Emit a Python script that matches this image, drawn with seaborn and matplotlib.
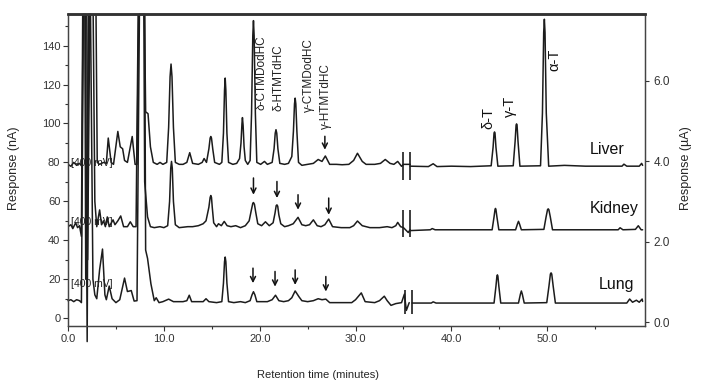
import numpy as np
import pandas as pd
import matplotlib
matplotlib.use("Agg")
import matplotlib.pyplot as plt
import seaborn as sns

# --- data (time in minutes) ---
# left part (before the axis break), response in nA
liver_left = [(0.0, 79), (0.3, 78), (0.6, 80), (0.9, 78.5), (1.2, 79.5), (1.45, 78), (1.6, 170), (1.95, 170),
              (2.05, 30), (2.3, 170), (2.9, 170), (3.05, 80), (3.3, 79), (3.7, 80), (4.0, 79.5), (4.2, 92.5),
              (4.5, 80), (4.75, 79), (5.2, 95.9), (5.45, 88), (5.7, 87), (5.9, 81), (6.2, 80), (6.7, 93.3),
              (7.0, 79), (7.2, 79), (7.4, 170), (7.95, 170), (8.1, 106), (8.35, 105), (8.6, 88), (8.9, 80),
              (9.3, 79), (9.6, 80), (9.9, 79), (10.3, 80), (10.5, 98), (10.65, 124), (10.75, 130.5), (10.85, 124),
              (11.0, 98), (11.2, 80), (11.6, 79), (12.0, 79), (12.4, 80), (12.7, 85), (13.0, 79.5), (13.6, 79),
              (14.0, 80), (14.2, 82), (14.45, 80), (14.7, 87), (14.83, 92.5), (14.9, 93.3), (14.97, 92.5),
              (15.1, 87), (15.3, 80), (15.8, 79), (16.05, 80), (16.22, 95), (16.33, 117), (16.4, 123.3),
              (16.47, 117), (16.58, 95), (16.75, 80), (17.2, 79), (17.6, 79.5), (17.9, 82), (18.05, 90),
              (18.15, 100), (18.2, 103), (18.27, 99), (18.37, 88), (18.5, 81), (18.75, 79), (19.0, 81),
              (19.15, 105), (19.28, 145), (19.35, 152.8), (19.42, 145), (19.55, 105), (19.7, 80), (20.1, 79),
              (20.5, 80.5), (20.8, 79), (21.3, 80), (21.5, 87), (21.62, 95), (21.7, 96.8), (21.78, 95), (21.9, 87),
              (22.1, 79.5), (22.6, 79), (23.0, 79.5), (23.35, 83), (23.52, 96), (23.63, 110), (23.7, 113),
              (23.77, 110), (23.88, 96), (24.05, 80), (24.4, 78.5), (25.0, 79), (25.6, 79.5), (26.1, 81.5),
              (26.5, 80.5), (26.85, 83.3), (27.3, 79), (28.0, 79), (28.6, 78.8), (29.3, 79), (29.8, 81),
              (30.2, 84.7), (30.7, 80.5), (31.1, 79), (32.0, 79), (32.6, 79.5), (33.1, 81.5), (33.6, 79.5),
              (34.0, 79), (34.4, 80.5), (34.8, 78), (35.0, 79), (35.7, 79)]
kidney_left = [(0.0, 47), (0.3, 48), (0.5, 46), (0.8, 49), (1.0, 46.5), (1.2, 47.5), (1.4, 42), (1.55, 170),
               (1.75, 170), (1.85, 20), (2.2, 170), (2.6, 170), (2.8, 60), (3.0, 47), (3.3, 55.6), (3.5, 48),
               (3.7, 50), (3.9, 47), (4.1, 52), (4.3, 47), (4.7, 50.5), (4.9, 48), (5.2, 50), (5.5, 52.5), (5.8, 47),
               (6.2, 47), (6.5, 49.5), (6.8, 47), (7.1, 47), (7.35, 170), (7.9, 170), (8.0, 70), (8.3, 52), (8.6, 47),
               (9.0, 46.5), (9.6, 47), (10.0, 46.5), (10.4, 47.5), (10.6, 60), (10.72, 77), (10.8, 80.5),
               (10.88, 77), (11.0, 60), (11.2, 48), (11.6, 46.5), (12.5, 47), (13.0, 47), (13.6, 47.5), (14.1, 48.5),
               (14.4, 50), (14.7, 57), (14.83, 62), (14.9, 63), (14.97, 62), (15.05, 57), (15.2, 49), (15.5, 47),
               (15.7, 48.5), (16.0, 47.5), (16.3, 49.7), (16.6, 47.5), (17.0, 47), (17.5, 47.5), (18.0, 46.5),
               (18.5, 47.5), (18.9, 50), (19.15, 56), (19.28, 59), (19.35, 59.4), (19.45, 58.5), (19.6, 54),
               (19.8, 48.5), (20.2, 47.5), (20.6, 49.5), (21.0, 47.5), (21.4, 49), (21.6, 54), (21.72, 57.8),
               (21.8, 58.2), (21.88, 57.5), (22.0, 53), (22.2, 48.5), (22.6, 47), (23.0, 47.5), (23.5, 48.5),
               (24.0, 51.8), (24.4, 48), (24.8, 47.5), (25.2, 48), (25.6, 50.5), (26.0, 47.5), (26.4, 47), (26.8, 48),
               (27.2, 50.9), (27.6, 47), (28.5, 46.5), (29.4, 46.5), (29.8, 47.5), (30.2, 49.9), (30.7, 47.5),
               (31.5, 46.5), (32.5, 46.5), (33.3, 47), (33.8, 46.5), (34.2, 47.5), (34.4, 49.2), (34.7, 47),
               (35.0, 46.5), (35.5, 44), (35.7, 45.5)]
lung_left = [(0.0, 9), (0.3, 9.5), (0.6, 8.5), (0.9, 9.5), (1.2, 9), (1.4, 8), (1.6, 156), (1.8, 156), (2.0, -12),
             (2.15, 156), (2.35, 156), (2.6, 20), (2.8, 12), (3.0, 10), (3.3, 25), (3.6, 35.5), (3.85, 12), (4.0, 9.5),
             (4.3, 16.5), (4.6, 10), (5.0, 8), (5.4, 9.5), (5.9, 20.6), (6.2, 13.7), (6.6, 14.2), (6.9, 8.8), (7.2, 9),
             (7.45, 156), (8.0, 156), (8.1, 35), (8.3, 30.7), (8.65, 17.7), (9.0, 9), (9.2, 10.5), (9.5, 8),
             (9.9, 8.5), (10.5, 9.8), (11.0, 8.5), (12.0, 8.5), (12.4, 9), (12.65, 11.8), (12.9, 8.5), (13.5, 8.5),
             (14.1, 8.5), (14.4, 10), (14.7, 8.5), (15.5, 8), (16.05, 8.5), (16.22, 18), (16.33, 29), (16.4, 31.4),
             (16.47, 29), (16.58, 18), (16.75, 8.5), (17.3, 8), (18.0, 8.5), (18.5, 8), (19.0, 9), (19.2, 12),
             (19.35, 13.6), (19.5, 12), (19.7, 8.5), (20.3, 8.5), (20.8, 8.5), (21.3, 9.5), (21.65, 11.8), (22.0, 9),
             (22.5, 8.5), (23.0, 9), (23.35, 10.5), (23.7, 14), (24.1, 11), (24.4, 9), (25.0, 8.5), (25.6, 9),
             (26.1, 10), (26.5, 9.5), (26.9, 9.8), (27.3, 8), (28.5, 8), (29.6, 8), (30.0, 9.5), (30.6, 13),
             (31.0, 8.5), (32.0, 8), (32.5, 9), (33.0, 11.3), (33.3, 9), (33.7, 6.6), (34.2, 7.5), (34.8, 8),
             (35.1, 12.4), (35.3, 4), (35.6, 8)]

# right part (after the break), response in uA
liver_right = [(35.7, 3.88), (37.6, 3.87), (38.1, 3.94), (38.5, 3.87), (40.0, 3.88), (42.0, 3.87), (44.15, 3.89),
               (44.35, 4.35), (44.45, 4.7), (44.5, 4.73), (44.55, 4.7), (44.65, 4.35), (44.85, 3.88), (46.45, 3.89),
               (46.65, 4.5), (46.75, 4.9), (46.8, 4.93), (46.85, 4.9), (46.95, 4.5), (47.15, 3.88), (49.3, 3.89),
               (49.5, 5.2), (49.63, 7.2), (49.7, 7.53), (49.77, 7.2), (49.9, 5.2), (50.15, 3.88), (51.8, 3.9),
               (54.0, 3.88), (57.8, 3.88), (58.0, 3.93), (58.3, 3.88), (59.6, 3.88), (59.85, 3.95), (59.95, 3.9)]
kidney_right = [(35.7, 2.28), (37.8, 2.30), (38.0, 2.33), (38.3, 2.30), (44.25, 2.30), (44.45, 2.62), (44.55, 2.8),
                (44.6, 2.83), (44.65, 2.8), (44.75, 2.62), (44.95, 2.30), (46.7, 2.30), (46.9, 2.45), (47.0, 2.51),
                (47.1, 2.45), (47.3, 2.30), (49.65, 2.31), (49.88, 2.62), (50.03, 2.8), (50.1, 2.82), (50.17, 2.8),
                (50.32, 2.62), (50.55, 2.30), (57.4, 2.30), (57.6, 2.35), (57.9, 2.30), (59.2, 2.31), (59.5, 2.40),
                (59.8, 2.30), (59.95, 2.30)]
lung_right = [(35.9, 0.48), (37.9, 0.48), (38.1, 0.51), (38.4, 0.48), (44.45, 0.48), (44.65, 0.9), (44.75, 1.15),
              (44.8, 1.18), (44.85, 1.15), (44.95, 0.9), (45.15, 0.48), (47.0, 0.48), (47.2, 0.7), (47.3, 0.78),
              (47.4, 0.7), (47.6, 0.48), (49.95, 0.49), (50.18, 0.9), (50.33, 1.2), (50.4, 1.23), (50.47, 1.2),
              (50.62, 0.9), (50.85, 0.48), (58.3, 0.48), (58.6, 0.58), (58.9, 0.50), (59.3, 0.55), (59.6, 0.50),
              (59.9, 0.58), (59.95, 0.52)]

tissues = ["Liver", "Kidney", "Lung"]
tissue_label_time = [56.2, 57.0, 57.2]
tissue_label_nA = [86.6, 56.2, 17.1]
mv_label_nA = [79.7, 49.4, 17.6]

# axis-break bars: (first bar, second bar) times and nA extent
break_first = [35.0, 35.0, 35.2]
break_second = [35.7, 35.7, 35.9]
break_low = [71.0, 41.7, 2.1]
break_high = [85.5, 55.6, 14.5]

# labelled peaks
metab_names = ["δ-CTMDodHC", "δ-HTMTdHC", "γ-CTMDodHC", "γ-HTMTdHC"]
metab_time = [20.2, 22.0, 25.1, 26.9]
metab_bottom_nA = [107.0, 106.5, 106.0, 97.3]
toco_names = ["δ-T", "γ-T", "α-T"]
toco_time = [43.85, 46.1, 50.7]
toco_bottom_uA = [4.8, 5.1, 6.25]

# arrows (time, start nA, end nA)
arrows = [(26.8, 93.4, 86.5),
          (19.35, 72.0, 63.4), (21.8, 70.2, 61.7), (24.0, 63.4, 55.7), (27.2, 61.7, 53.1),
          (19.3, 25.7, 18.0), (21.6, 24.0, 16.2), (23.7, 24.8, 17.1), (26.9, 21.4, 13.7)]

# --- build tables ---
def to_frame(pairs, tissue, col):
    df = pd.DataFrame(pairs, columns=["time", col])
    df["tissue"] = tissue
    return df

left_df = pd.concat([to_frame(p, t, "nA") for p, t in zip([liver_left, kidney_left, lung_left], tissues)])
right_df = pd.concat([to_frame(p, t, "uA") for p, t in zip([liver_right, kidney_right, lung_right], tissues)])

sns.set_style("ticks")
plt.rcParams['font.family'] = ['Liberation Sans', 'DejaVu Sans']

line_col = "#1c1c1c"
fig = plt.figure(figsize=(7.07, 3.86), dpi=100)
ax = fig.add_axes([68 / 707, 1 - 326 / 386, 577 / 707, 312 / 386])
ax2 = ax.twinx()

for t in tissues:
    sub = left_df[left_df["tissue"] == t]
    sns.lineplot(data=sub, x="time", y="nA", sort=False, estimator=None, color=line_col, lw=1.1,
                 ax=ax, clip_on=(t != "Lung"))
    sub = right_df[right_df["tissue"] == t]
    sns.lineplot(data=sub, x="time", y="uA", sort=False, estimator=None, color=line_col, lw=1.1, ax=ax2)

ax.set_xlim(0, 60.2)
ax.set_ylim(-4, 156.2)
ax2.set_ylim(-0.09, 7.66)

for i in range(3):
    ax.vlines([break_first[i], break_second[i]], break_low[i], break_high[i], color=line_col, lw=1.2)
    ax.text(0.3, mv_label_nA[i], "[400 mV]", fontsize=7.5, va="center", ha="left", color="#222")
    ax.text(tissue_label_time[i], tissue_label_nA[i], tissues[i], fontsize=11.5, ha="center", va="center",
            color="#111")

for name, t, b in zip(metab_names, metab_time, metab_bottom_nA):
    ax.text(t, b, name, rotation=90, fontsize=8.5, ha="center", va="bottom", color="#222")
for name, t, b in zip(toco_names, toco_time, toco_bottom_uA):
    ax2.text(t, b, name, rotation=90, fontsize=10.5, ha="center", va="bottom", color="#111")

for t, y0, y1 in arrows:
    ax.annotate("", xy=(t, y1), xytext=(t, y0),
                arrowprops=dict(arrowstyle="->", lw=1.1, color="#111", mutation_scale=9, shrinkA=0, shrinkB=0))

# ticks
ax.set_xticks(np.arange(0, 51, 10))
ax.set_xticklabels([f"{v:.1f}" for v in np.arange(0, 51, 10)])
ax.set_xticks(np.arange(5, 60, 10), minor=True)
ax.set_yticks(np.arange(0, 141, 20))
ax.set_yticks(np.arange(10, 156, 20), minor=True)
ax2.set_yticks([0, 2, 4, 6])
ax2.set_yticklabels(["0.0", "2.0", "4.0", "6.0"])
ax.tick_params(axis="both", which="major", labelsize=8, length=3.5, width=0.8, colors="#333", pad=2)
ax.tick_params(axis="both", which="minor", length=2.5, width=0.8, colors="#333")
ax2.tick_params(axis="y", labelsize=8.5, length=3, width=0.8, colors="#333", pad=3)

for a in (ax, ax2):
    for s in a.spines.values():
        s.set_linewidth(0.9)
        s.set_color("#444")
    a.spines["top"].set_linewidth(1.8)
    a.spines["top"].set_color("#333")

ax.set_xlabel("Retention time (minutes)", fontsize=8)
ax.xaxis.set_label_coords(0.433, -0.141)
ax.set_ylabel("Response (nA)", fontsize=9)
ax.yaxis.set_label_coords(-0.083, 0.506)
ax2.set_ylabel("Response (µA)", fontsize=9)
ax2.yaxis.set_label_coords(1.060, 0.506)

fig.savefig("out.png", dpi=100)
